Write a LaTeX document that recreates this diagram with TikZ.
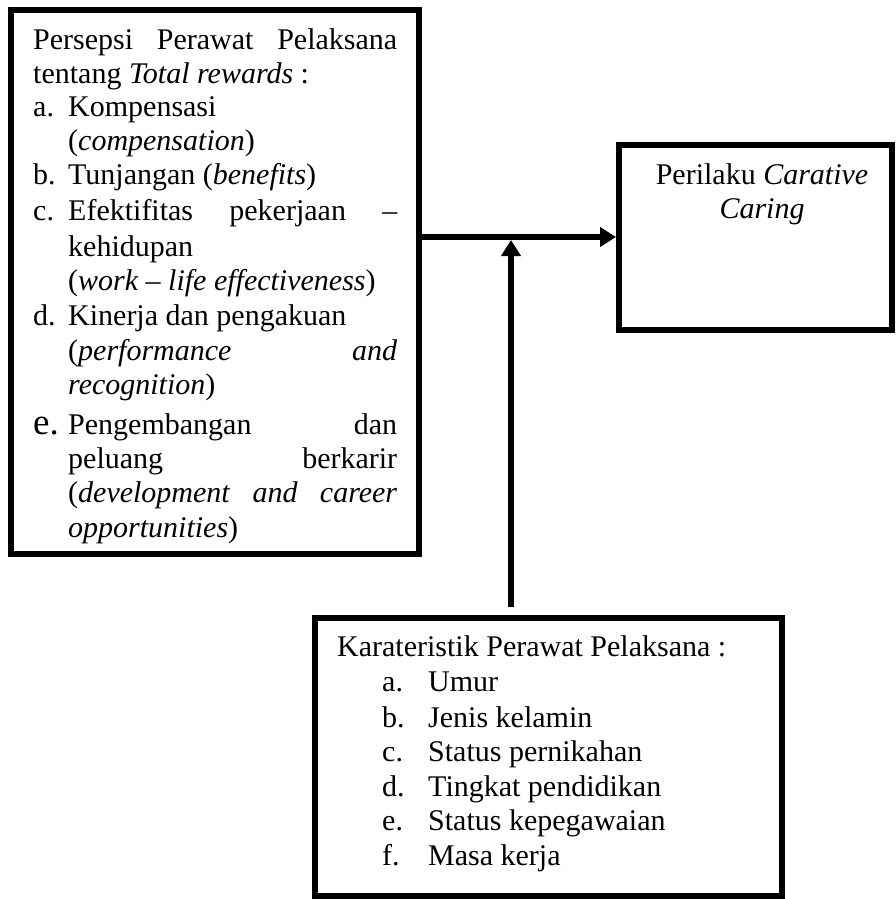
\documentclass[tikz,border=0pt]{standalone}
\usepackage{fontspec}
\setmainfont{Liberation Serif}
\usetikzlibrary{arrows.meta}
\begin{document}
\begin{tikzpicture}[x=1pt,y=-1pt,
  box/.style={draw=black, line width=6pt, inner sep=0pt, rectangle},
  txt/.style={anchor=base west, inner sep=0pt, font=\fontsize{30}{36}\selectfont},
  ctxt/.style={anchor=base, inner sep=0pt, font=\fontsize{30}{36}\selectfont},
  arr/.style={line width=6pt, -{Triangle[length=16pt,width=19pt]}}]
\useasboundingbox (0,0) rectangle (895,899);
% boxes
\node[box, minimum width=408pt, minimum height=544pt] (persepsi) at (215,282) {};
\node[box, minimum width=273pt, minimum height=185pt] (perilaku) at (755.5,237.5) {};
\node[box, minimum width=467.5pt, minimum height=278pt] (karakter) at (548.25,757) {};
% left box text
\node[txt] (l1) at (33,49) {\makebox[364pt][s]{Persepsi Perawat Pelaksana}};
\node[txt] (l2) at (33,83) {tentang \textit{Total rewards} :};
\node[txt] (l3) at (33,116.5) {\makebox[35pt][l]{a.}Kompensasi};
\node[txt] (l4) at (68,150) {(\textit{compensation})};
\node[txt] (l5) at (33,184) {\makebox[35pt][l]{b.}Tunjangan (\textit{benefits})};
\node[txt] (l6) at (33,220) {\makebox[35pt][l]{c.}\makebox[329pt][s]{Efektifitas pekerjaan –}};
\node[txt] (l7) at (68,256.5) {kehidupan};
\node[txt] (l8) at (68,290) {(\textit{work – life effectiveness})};
\node[txt] (l9) at (33,325) {\makebox[35pt][l]{d.}Kinerja dan pengakuan};
\node[txt] (l10) at (68,360) {\makebox[329pt][s]{(\textit{performance} \textit{and}}};
\node[txt] (l11) at (68,394) {\textit{recognition})};
\node[txt] (l12) at (33,434) {\makebox[35pt][l]{\fontsize{37}{40}\selectfont e.}\makebox[329pt][s]{Pengembangan dan}};
\node[txt] (l13) at (68,468) {\makebox[329pt][s]{peluang berkarir}};
\node[txt] (l14) at (68,502) {\makebox[329pt][s]{(\textit{development} \textit{and} \textit{career}}};
\node[txt] (l15) at (68,537) {\textit{opportunities})};
% right box text
\node[ctxt] (p1) at (762,184) {Perilaku \textit{Carative}};
\node[ctxt] (p2) at (762,218) {\textit{Caring}};
% bottom box text
\node[txt] (k0) at (337,656) {Karateristik Perawat Pelaksana :};
\node[txt] (k1) at (382,691) {\makebox[46pt][l]{a.}Umur};
\node[txt] (k2) at (382,727) {\makebox[46pt][l]{b.}Jenis kelamin};
\node[txt] (k3) at (382,761) {\makebox[46pt][l]{c.}Status pernikahan};
\node[txt] (k4) at (382,796) {\makebox[46pt][l]{d.}Tingkat pendidikan};
\node[txt] (k5) at (382,830) {\makebox[46pt][l]{e.}Status kepegawaian};
\node[txt] (k6) at (382,865) {\makebox[46pt][l]{f.}Masa kerja};
% connectors
\coordinate (j) at (511,237);
\coordinate (jb) at (511,240);
\draw[arr] (persepsi.east |- j) -- (perilaku.west |- j);
\draw[arr] (jb |- karakter.north) ++(0,-8) -- (jb);
\end{tikzpicture}
\end{document}
